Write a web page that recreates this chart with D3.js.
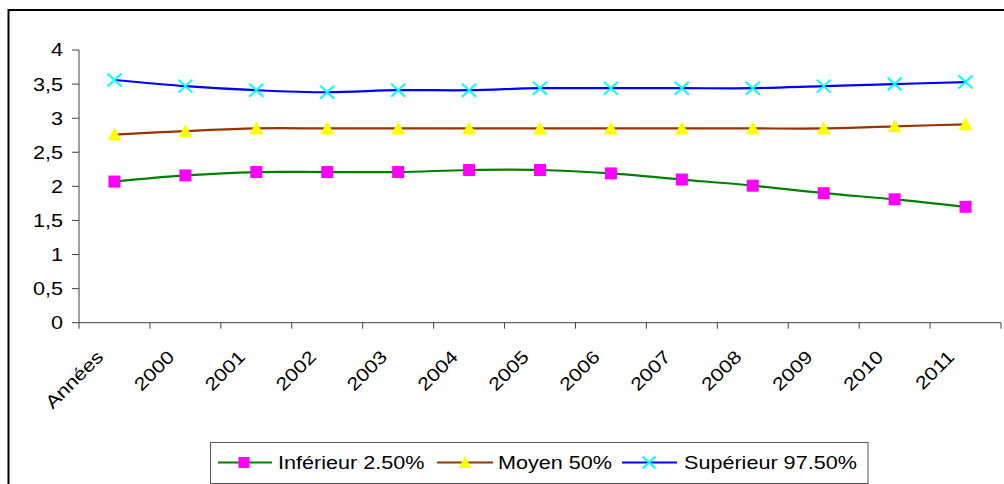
<!DOCTYPE html>
<html>
<head>
<meta charset="utf-8">
<script src="https://cdn.jsdelivr.net/npm/d3@7"></script>
<style>
  html, body { margin: 0; padding: 0; background: #fff; }
  svg { display: block; font-family: "Liberation Sans", Arial, sans-serif; }
</style>
</head>
<body>
<svg id="chart" width="1004" height="484"></svg>
<script>
const categories = ["Années", "2000", "2001", "2002", "2003", "2004", "2005", "2006", "2007", "2008", "2009", "2010", "2011"];
const inferieur = [2.07, 2.16, 2.21, 2.21, 2.21, 2.24, 2.24, 2.19, 2.10, 2.01, 1.90, 1.81, 1.70];
const moyen     = [2.76, 2.81, 2.85, 2.85, 2.85, 2.85, 2.85, 2.85, 2.85, 2.85, 2.85, 2.88, 2.91];
const superieur = [3.56, 3.47, 3.41, 3.38, 3.41, 3.41, 3.44, 3.44, 3.44, 3.44, 3.47, 3.50, 3.53];
const yTicks = [0, 0.5, 1, 1.5, 2, 2.5, 3, 3.5, 4];
const seriesNames = ["Inférieur 2.50%", "Moyen 50%", "Supérieur 97.50%"];

const series = [
  { name: seriesNames[0], values: inferieur, line: "#008000", marker: "square", fill: "#FF00FF" },
  { name: seriesNames[1], values: moyen,     line: "#993300", marker: "triangle", fill: "#FFFF00" },
  { name: seriesNames[2], values: superieur, line: "#0000FF", marker: "x", fill: "#00FFFF" }
];

const FS = 18, SX = 1.2;
const svg = d3.select("#chart");

// outer frame
svg.append("rect").attr("x", 8.5).attr("y", 10).attr("width", 1000).attr("height", 480)
  .attr("fill", "none").attr("stroke", "#000").attr("stroke-width", 2);

const x = d3.scaleBand().domain(categories).range([79, 1001]).padding(0);
const y = d3.scaleLinear().domain([0, 4]).range([322.7, 50]);
const cx = c => x(c) + x.bandwidth() / 2;

const axisColor = "#404040";

// y axis
const yAxis = svg.append("g");
yAxis.append("line").attr("x1", 79).attr("x2", 79).attr("y1", y(4)).attr("y2", y(0))
  .attr("stroke", axisColor).attr("stroke-width", 1);
yAxis.selectAll("line.tick").data(yTicks).join("line").attr("class", "tick")
  .attr("x1", 72).attr("x2", 79).attr("y1", d => y(d)).attr("y2", d => y(d))
  .attr("stroke", axisColor).attr("stroke-width", 1);
const fmt = d => String(d).replace(".", ",");
yAxis.selectAll("text").data(yTicks).join("text")
  .attr("transform", d => `translate(63,${y(d)}) scale(${SX},1)`)
  .attr("text-anchor", "end").attr("dy", "0.36em")
  .attr("font-size", FS).attr("fill", "#000").text(fmt);

// x axis
const xAxis = svg.append("g");
xAxis.append("line").attr("x1", 79).attr("x2", 1001).attr("y1", y(0)).attr("y2", y(0))
  .attr("stroke", axisColor).attr("stroke-width", 1);
const tickPos = categories.map(c => x(c)).concat([x(categories[categories.length - 1]) + x.bandwidth()]);
xAxis.selectAll("line.tick").data(tickPos).join("line").attr("class", "tick")
  .attr("x1", d => d).attr("x2", d => d).attr("y1", y(0)).attr("y2", y(0) + 6)
  .attr("stroke", axisColor).attr("stroke-width", 1);
xAxis.selectAll("text").data(categories).join("text")
  .attr("transform", d => `translate(${cx(d) - 10},358) rotate(-45) scale(${SX},1)`)
  .attr("text-anchor", "end").attr("font-size", FS).attr("fill", "#000").text(d => d);

// markers
function drawMarker(g, type, fill, px, py, s) {
  if (type === "square") {
    g.append("rect").attr("x", px - 6 * s).attr("y", py - 6 * s).attr("width", 12 * s).attr("height", 12 * s)
      .attr("fill", fill);
  } else if (type === "triangle") {
    g.append("path").attr("d", `M${px},${py - 7 * s}L${px + 7 * s},${py + 6 * s}L${px - 7 * s},${py + 6 * s}Z`)
      .attr("fill", fill);
  } else {
    g.append("path").attr("d", `M${px - 7 * s},${py - 6.5 * s}L${px + 7 * s},${py + 6.5 * s}M${px - 7 * s},${py + 6.5 * s}L${px + 7 * s},${py - 6.5 * s}`)
      .attr("stroke", fill).attr("stroke-width", 2).attr("fill", "none");
  }
}

const line = d3.line().x((d, i) => cx(categories[i])).y(d => y(d)).curve(d3.curveCatmullRom.alpha(0.5));
series.forEach(s => {
  const g = svg.append("g");
  g.append("path").attr("d", line(s.values)).attr("fill", "none")
    .attr("stroke", s.line).attr("stroke-width", 2.2);
  s.values.forEach((v, i) => drawMarker(g, s.marker, s.fill, cx(categories[i]), y(v), 1));
});

// legend
const lg = svg.append("g");
lg.append("rect").attr("x", 210.5).attr("y", 442.5).attr("width", 657.5).attr("height", 41)
  .attr("fill", "#fff").attr("stroke", "#555").attr("stroke-width", 1);
const legendPos = [
  { l0: 218, l1: 272, m: 244, t: 278 },
  { l0: 437, l1: 493, m: 465, t: 498 },
  { l0: 622, l1: 677, m: 649, t: 684 }
];
series.forEach((s, i) => {
  const p = legendPos[i], ly = 462.5;
  lg.append("line").attr("x1", p.l0).attr("x2", p.l1).attr("y1", ly).attr("y2", ly)
    .attr("stroke", s.line).attr("stroke-width", 2);
  drawMarker(lg, s.marker, s.fill, p.m, ly, 0.92);
  lg.append("text").attr("transform", `translate(${p.t},${ly}) scale(${SX},1)`)
    .attr("dy", "0.36em").attr("font-size", FS).attr("fill", "#000").text(s.name);
});
</script>
</body>
</html>
